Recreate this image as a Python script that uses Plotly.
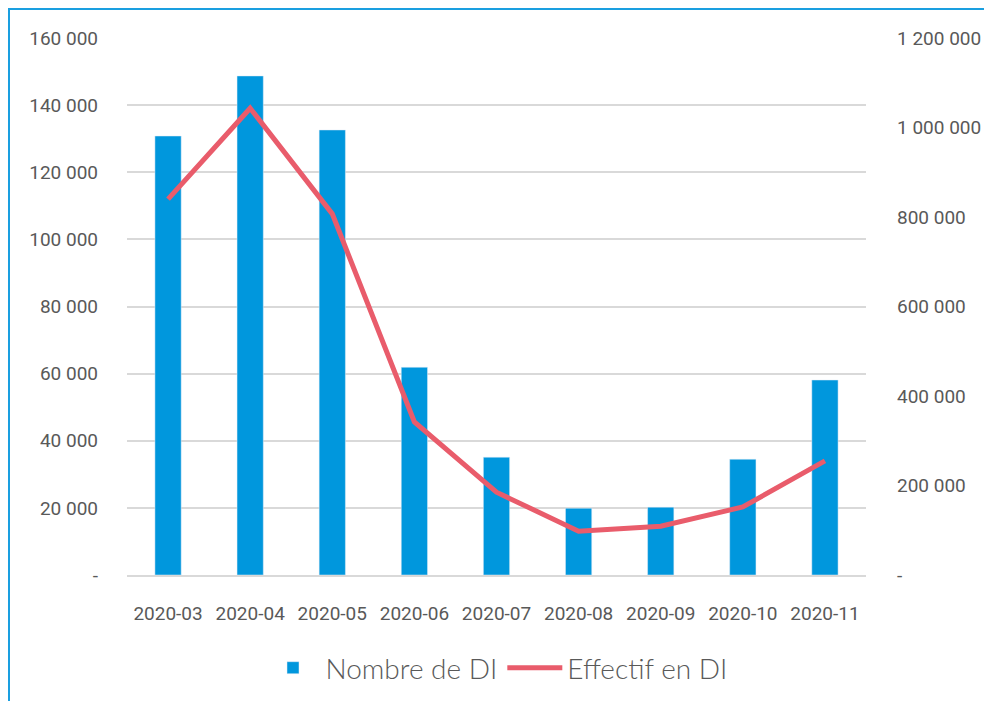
import plotly.graph_objects as go

months = ['2020-03', '2020-04', '2020-05', '2020-06', '2020-07',
          '2020-08', '2020-09', '2020-10', '2020-11']
nombre_di = [130800, 148700, 132600, 61900, 35100, 19900, 20200, 34500, 58100]
effectif_di = [840000, 1043000, 807000, 342000, 185000, 98000, 109000, 152000, 255000]

left_ticks = [0, 20000, 40000, 60000, 80000, 100000, 120000, 140000, 160000]
right_ticks = [0, 200000, 400000, 600000, 800000, 1000000, 1200000]


def fmt(v):
    """Format with a space as thousands separator, '-' for zero"""
    return '-' if v == 0 else f"{v:,}".replace(',', ' ')


# page has an 8px body margin, so the figure is drawn 8px in from the window edge
W, H = 976, 693
L, R, T, B = 119, 118, 30, 126
pw, ph = W - L - R, H - T - B

tick_font = dict(family='Roboto', size=19, color='#595959')

fig = go.Figure()
fig.add_trace(go.Bar(x=months, y=nombre_di, name='Nombre de DI',
                     marker_color='#0097DD', width=0.32))
fig.add_trace(go.Scatter(x=months, y=effectif_di, name='Effectif en DI', yaxis='y2',
                         mode='lines', line=dict(color='#E95C6B', width=5)))

fig.update_layout(
    width=W, height=H,
    margin=dict(l=L, r=R, t=T, b=B, autoexpand=False),
    plot_bgcolor='white', paper_bgcolor='white',
    showlegend=True,
    legend=dict(orientation='h', x=0.5, xanchor='center',
                y=(T + ph - 660) / ph, yanchor='middle', itemwidth=55,
                font=dict(family='Lato', size=28, color='#595959', weight=300)),
    xaxis=dict(type='category', tickfont=tick_font, showgrid=False, showline=True,
               linecolor='#d9d9d9', linewidth=2, ticks='', tickangle=0,
               ticklabelstandoff=20, automargin=False),
    yaxis=dict(range=[0, 160000], tickvals=left_ticks,
               ticktext=[fmt(v) for v in left_ticks], tickfont=tick_font,
               gridcolor='#d9d9d9', gridwidth=2, zeroline=False, ticklabelstandoff=28,
               automargin=False),
    yaxis2=dict(range=[0, 1200000], tickvals=right_ticks,
                ticktext=[fmt(v) for v in right_ticks], tickfont=tick_font,
                overlaying='y', side='right', showgrid=False, zeroline=False,
                ticklabelstandoff=30, automargin=False),
)

# blue frame around the chart (left and top edges visible)
fig.add_shape(type='rect', xref='paper', yref='paper',
              x0=(1 - L) / pw, x1=(W + 20 - L) / pw,
              y0=-(B + 20) / ph, y1=1 + (T - 1) / ph,
              line=dict(color='#1A9FE0', width=2), layer='below')

fig.write_html("out.html")
